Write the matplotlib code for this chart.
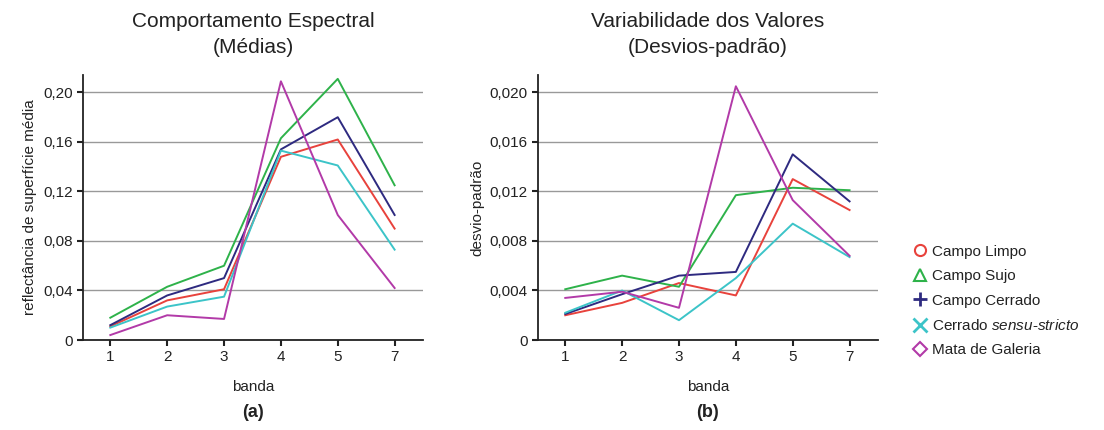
import numpy as np
import matplotlib
matplotlib.use('Agg')
import matplotlib.pyplot as plt
from matplotlib.lines import Line2D

plt.rcParams['font.family'] = ['Liberation Sans', 'DejaVu Sans']
plt.rcParams['mathtext.fontset'] = 'custom'
plt.rcParams['mathtext.it'] = 'Liberation Sans:italic'
plt.rcParams['mathtext.rm'] = 'Liberation Sans'

# Data
bandas = ['1', '2', '3', '4', '5', '7']
classes = ['Campo Limpo', 'Campo Sujo', 'Campo Cerrado',
           'Cerrado $\\it{sensu}$-$\\it{stricto}$', 'Mata de Galeria']

media_limpo = [0.011, 0.032, 0.041, 0.148, 0.162, 0.090]
media_sujo = [0.018, 0.043, 0.060, 0.163, 0.211, 0.125]
media_cerrado = [0.012, 0.036, 0.050, 0.154, 0.180, 0.101]
media_stricto = [0.010, 0.027, 0.035, 0.153, 0.141, 0.073]
media_galeria = [0.004, 0.020, 0.017, 0.209, 0.101, 0.042]

desvio_limpo = [0.0020, 0.0030, 0.0046, 0.0036, 0.0130, 0.0105]
desvio_sujo = [0.0041, 0.0052, 0.0043, 0.0117, 0.0123, 0.0121]
desvio_cerrado = [0.0021, 0.0037, 0.0052, 0.0055, 0.0150, 0.0112]
desvio_stricto = [0.0022, 0.0040, 0.0016, 0.0050, 0.0094, 0.0067]
desvio_galeria = [0.0034, 0.0039, 0.0026, 0.0205, 0.0113, 0.0068]

cores = ['#e8423c', '#2eb24a', '#2e2a80', '#3cc4c8', '#b23aa8']
marcadores = ['o', '^', '+', 'x', 'D']

medias = [media_limpo, media_sujo, media_cerrado, media_stricto, media_galeria]
desvios = [desvio_limpo, desvio_sujo, desvio_cerrado, desvio_stricto, desvio_galeria]

fig = plt.figure(figsize=(11.04, 4.30), dpi=100)
ax1 = fig.add_axes([0.0752, 0.2093, 0.308, 0.616])
ax2 = fig.add_axes([0.4873, 0.2093, 0.308, 0.616])

x = np.arange(len(bandas))


def style_axes(ax, yticks, ylabels, ytop, ylabel, titulo, letra):
    ax.set_xlim(-0.48, 5.5)
    ax.set_ylim(0, ytop)
    ax.set_xticks(x)
    ax.set_xticklabels(bandas)
    ax.set_yticks(yticks)
    ax.set_yticklabels(ylabels)
    ax.yaxis.grid(True, color='#999999', linewidth=1)
    ax.set_axisbelow(True)
    for s in ['top', 'right']:
        ax.spines[s].set_visible(False)
    for s in ['left', 'bottom']:
        ax.spines[s].set_linewidth(1.3)
        ax.spines[s].set_color('#222222')
    ax.tick_params(axis='both', labelsize=11, colors='#222222',
                   length=4, width=1.5, direction='out')
    ax.set_xlabel('banda', fontsize=11, color='#222222', labelpad=11)
    ax.set_ylabel(ylabel, fontsize=11, color='#222222', labelpad=4)
    ax.set_title(titulo, fontsize=15, color='#222222', pad=16, linespacing=1.45)
    ax.text(0.5, -0.272, letra, transform=ax.transAxes, ha='center', va='center',
            fontsize=13, fontweight='bold', color='#222222')


for serie, cor in zip(medias, cores):
    ax1.plot(x, serie, color=cor, linewidth=1.4)
for serie, cor in zip(desvios, cores):
    ax2.plot(x, serie, color=cor, linewidth=1.4)

style_axes(ax1, [0, 0.04, 0.08, 0.12, 0.16, 0.20],
           ['0', '0,04', '0,08', '0,12', '0,16', '0,20'], 0.214,
           'reflectância de superfície média',
           'Comportamento Espectral\n(Médias)', '(a)')
style_axes(ax2, [0, 0.004, 0.008, 0.012, 0.016, 0.020],
           ['0', '0,004', '0,008', '0,012', '0,016', '0,020'], 0.0214,
           'desvio-padrão',
           'Variabilidade dos Valores\n(Desvios-padrão)', '(b)')

handles = []
for cor, m, nome in zip(cores, marcadores, classes):
    if m in ['+', 'x']:
        h = Line2D([], [], linestyle='none', marker=m, color=cor,
                   markersize=10, markeredgewidth=2)
    else:
        h = Line2D([], [], linestyle='none', marker=m, markerfacecolor='none',
                   markeredgecolor=cor, markersize=8 if m != 'D' else 7,
                   markeredgewidth=1.5)
    handles.append(h)

fig.legend(handles, classes, loc='center left', bbox_to_anchor=(0.815, 0.30),
           frameon=False, fontsize=11, handlelength=0.8, handletextpad=0.4,
           labelspacing=0.68, labelcolor='#222222')

plt.savefig('out.png', dpi=100)
